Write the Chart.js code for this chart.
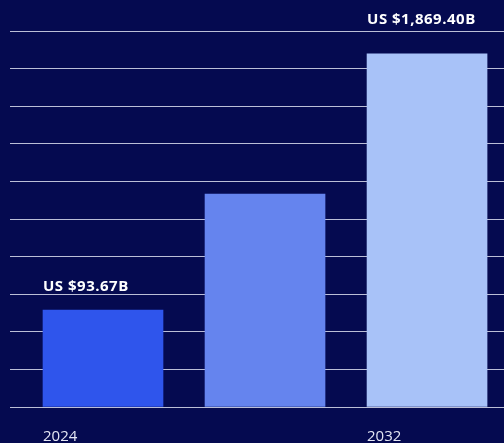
<!DOCTYPE html>
<html>
<head>
<meta charset="utf-8">
<script src="https://cdn.jsdelivr.net/npm/chart.js@4.4.1/dist/chart.umd.min.js"></script>
<style>
  html, body { margin: 0; padding: 0; background: #050a50; }
  #wrap { width: 504px; height: 443px; }
</style>
</head>
<body>
<div id="wrap"><canvas id="market-chart"></canvas></div>
<script>
const years = ['2024', '', '2032'];
const barHeights = [2.58, 5.66, 9.39];          // in gridline units
const valueLabels = ['US $93.67B', '', 'US $1,869.40B'];
const barColors = ['#2f55ec', '#6584ee', '#a8c2f8'];

// gap between bar top and label baseline (px)
const labelGaps = [19, 0, 30];

const labelPlugin = {
    id: 'barLabels',
    afterDatasetsDraw(chart) {
        const ctx = chart.ctx;
        const meta = chart.getDatasetMeta(0);
        ctx.save();
        ctx.textAlign = 'left';
        ctx.textBaseline = 'alphabetic';
        meta.data.forEach((bar, i) => {
            const left = bar.x - bar.width / 2;
            if (valueLabels[i]) {
                ctx.font = 'bold 15px "Open Sans", sans-serif';
                ctx.letterSpacing = '0.5px';
                ctx.fillStyle = '#ffffff';
                ctx.fillText(valueLabels[i], left, bar.y - labelGaps[i]);
            }
            if (years[i]) {
                ctx.font = '15px "Open Sans", sans-serif';
                ctx.letterSpacing = '0px';
                ctx.fillStyle = '#e4e6f4';
                ctx.fillText(years[i], left, chart.chartArea.bottom + 34);
            }
        });
        ctx.restore();
    }
};

new Chart(document.getElementById('market-chart').getContext('2d'), {
    type: 'bar',
    data: {
        datasets: [{
            data: barHeights.map((h, i) => ({ x: i, y: h })),
            backgroundColor: barColors,
            borderWidth: 0,
            barThickness: 120,
        }],
    },
    options: {
        responsive: true,
        maintainAspectRatio: false,
        animation: false,
        layout: { padding: { top: 31, bottom: 36, left: 10, right: 0 } },
        plugins: { legend: { display: false }, tooltip: { enabled: false } },
        scales: {
            x: { type: 'linear', display: false, offset: false, min: -0.574, max: 2.475 },
            y: {
                min: 0, max: 10,
                ticks: { display: false, stepSize: 1 },
                border: { display: false },
                grid: { color: 'rgba(220, 222, 238, 0.85)', lineWidth: 1, drawTicks: false },
            },
        },
    },
    plugins: [labelPlugin],
});
</script>
</body>
</html>
